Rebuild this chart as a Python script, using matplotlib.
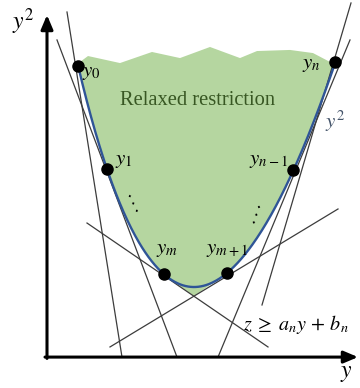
import numpy as np
import matplotlib.pyplot as plt

plt.rcParams['mathtext.fontset'] = 'stix'

# sample points on the curve z = y^2 (horizontal position)
point_labels = [r'$y_0$', r'$y_1$', r'$y_m$', r'$y_{m+1}$', r'$y_{n-1}$', r'$y_n$']
point_y = [-1.28, -0.935, -0.31, 0.32, 0.93, 1.29]
tilt = 0.074  # the sketch leans slightly to the right

# gray cutting lines z = a*y + b, given by their drawn start/end
line_x0 = [-1.27, -1.37, -1.07, -0.84, 1.56, 1.57]
line_z0 = [2.037, 1.830, 0.474, -0.444, 1.830, 2.104]
line_x1 = [-0.72, -0.17, 0.74, 1.44, 0.24, 0.68]
line_z1 = [-0.519, -0.519, -0.444, 0.578, -0.519, -0.133]

# ragged upper edge of the relaxed region
top_x = [-1.14, -1.06, -0.74, -0.42, -0.14, 0.16, 0.46, 0.63, 0.96, 1.19, 1.36]
top_z = [1.667, 1.711, 1.659, 1.741, 1.696, 1.778, 1.696, 1.748, 1.756, 1.733, 1.667]

AXIS_X = -1.47
AXIS_Z = -0.519

GREEN = '#b5d6a0'
BLUE = '#2f5597'
GRAY = '#3c3c3c'


def curve(y):
    y = np.asarray(y, dtype=float)
    return y + tilt * y ** 2, y ** 2


def intersect(i, j):
    p0 = np.array([line_x0[i], line_z0[i]])
    d0 = np.array([line_x1[i], line_z1[i]]) - p0
    p1 = np.array([line_x0[j], line_z0[j]])
    d1 = np.array([line_x1[j], line_z1[j]]) - p1
    t = np.linalg.solve(np.column_stack([d0, -d1]), p1 - p0)
    return p0 + t[0] * d0


fig = plt.figure(figsize=(3.6, 3.88), dpi=100)
ax = fig.add_axes([0, 0, 1, 1])
ax.set_xlim(-1.94, 1.66)
ax.set_ylim(-0.748, 2.126)
ax.axis('off')

# relaxed region: wavy top, curve on the sides, two cuts at the bottom
right_x, right_z = curve(np.linspace(point_y[5], point_y[3], 60))
left_x, left_z = curve(np.linspace(point_y[2], point_y[0], 60))
kink = intersect(2, 3)
poly_x = np.concatenate([top_x, right_x, [kink[0]], left_x])
poly_z = np.concatenate([top_z, right_z, [kink[1]], left_z])
ax.fill(poly_x, poly_z, color=GREEN, lw=0, zorder=1)

for x0, z0, x1, z1 in zip(line_x0, line_z0, line_x1, line_z1):
    ax.plot([x0, x1], [z0, z1], color=GRAY, lw=0.9, zorder=2)

cx, cz = curve(np.linspace(point_y[0], point_y[-1], 300))
ax.plot(cx, cz, color=BLUE, lw=1.7, zorder=3)

px, pz = curve(point_y)
ax.plot(px, pz, 'o', color='black', ms=8, zorder=4)

# point labels
label_pos = [(-1.12, 1.59, 'left'), (-0.79, 0.94, 'left'), (-0.27, 0.28, 'center'),
             (0.33, 0.285, 'center'), (0.945, 0.94, 'right'), (1.265, 1.655, 'right')]
for text, (lx, lz, ha) in zip(point_labels, label_pos):
    ax.text(lx, lz, text, fontsize=15, ha=ha, va='center', zorder=5)

ax.text(-0.62, 0.62, '\u22f1', fontsize=12, rotation=-17, ha='center', va='center')
ax.text(0.62, 0.54, '\u22f0', fontsize=12, rotation=24, ha='center', va='center')

ax.text(-0.745, 1.385, 'Relaxed restriction', family='Liberation Serif',
        fontsize=14.8, color='#385723', ha='left', va='center')
ax.text(1.41, 1.23, r'$y^2$', fontsize=15, color='#44546a', ha='center', va='center')
ax.text(0.49, -0.281, r'$z\;\geq\;a_n y\,+\,b_n$', fontsize=14.5, ha='left', va='center')

# axes with arrow heads
arrow = dict(arrowstyle='-|>,head_length=0.85,head_width=0.36', lw=2.2,
             color='black', shrinkA=0, shrinkB=0, mutation_scale=10)
ax.annotate('', xy=(AXIS_X, 2.015), xytext=(AXIS_X, AXIS_Z - 0.01), arrowprops=arrow)
ax.annotate('', xy=(1.64, AXIS_Z), xytext=(AXIS_X - 0.02, AXIS_Z), arrowprops=arrow)
ax.text(-1.71, 1.963, r'$y^2$', fontsize=17, ha='center', va='center')
ax.text(1.52, -0.63, r'$y$', fontsize=17, ha='center', va='center')

fig.savefig('out.png', dpi=100)
